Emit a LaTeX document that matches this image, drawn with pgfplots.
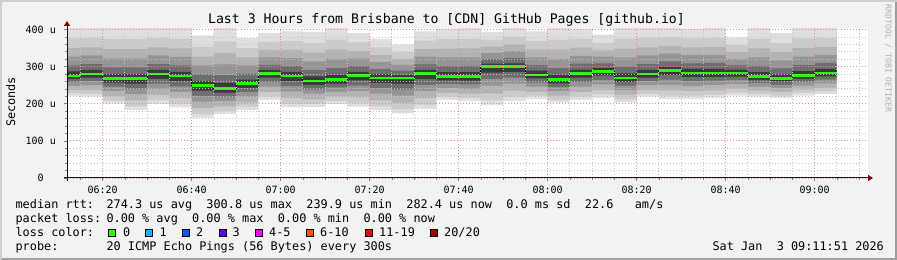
\documentclass[border=0pt]{standalone}
\usepackage{fontspec}
\usepackage{pgfplots}
\pgfplotsset{compat=1.18}
\usepackage{pgfplotstable}
\usetikzlibrary{arrows.meta}
\setmainfont{DejaVu Sans Mono}
\newfontfamily\mono{DejaVu Sans Mono}
\newcommand\ftitle{\mono\frenchspacing\fontsize{13.2bp}{15bp}\selectfont}
\newcommand\flegend{\mono\frenchspacing\fontsize{11.86bp}{14bp}\selectfont}
\newcommand\faxis{\mono\frenchspacing\fontsize{10bp}{12bp}\selectfont}
\newcommand\fwater{\mono\frenchspacing\fontsize{8.1bp}{10bp}\selectfont}
\definecolor{bg}{HTML}{F2F2F2}
\definecolor{shadeA}{HTML}{CFCFCF}
\definecolor{shadeB}{HTML}{9E9E9E}
\definecolor{mgrid}{HTML}{EB8C8C}
\definecolor{mingrid}{HTML}{C4C4C4}
\definecolor{arrowred}{HTML}{7F0000}
\definecolor{wm}{HTML}{B0B0B0}
\definecolor{sA}{HTML}{DFDFDF}
\definecolor{sB}{HTML}{CBCBCB}
\definecolor{sC}{HTML}{B3B3B3}
\definecolor{sD}{HTML}{959595}
\definecolor{sE}{HTML}{6E6E6E}
\definecolor{sF}{HTML}{3A3A3A}
\definecolor{med}{HTML}{26FF00}
\definecolor{lc1}{HTML}{00B8FF}
\definecolor{lc2}{HTML}{0059FF}
\definecolor{lc3}{HTML}{5E00FF}
\definecolor{lc4}{HTML}{FF00FF}
\definecolor{lc5}{HTML}{FF5500}
\definecolor{lc6}{HTML}{FF0000}
\definecolor{lc7}{HTML}{A10000}

% t = minutes after 06:00; b1..b6 lower smoke bounds, m median, u6..u1 upper smoke bounds (microseconds)
\pgfplotstableread{
t   b1  b2  b3  b4  b5  b6  m   u6  u5  u4  u3  u2  u1
12  221 228 237 248 258 266 275 287 303 327 350 376 404
15  219 226 237 250 261 270 280 291 307 330 352 377 404
20  200 208 220 234 246 257 268 280 298 322 347 374 404
25  183 193 209 226 241 254 268 280 298 322 347 374 404
30  199 209 223 240 254 267 280 291 307 330 352 377 404
35  190 200 215 232 247 261 274 286 303 326 349 375 404
40  162 172 188 206 221 235 249 261 279 303 327 354 384
45  172 180 193 207 219 230 241 256 277 306 336 368 404
50  183 192 204 219 231 243 254 265 281 303 325 350 377
55  210 219 231 246 258 270 281 291 305 325 345 367 391
60  190 200 216 233 248 261 275 286 301 323 345 369 395
65  191 200 212 227 239 251 262 274 291 314 338 364 393
70  199 207 219 232 244 254 265 278 296 321 346 373 404
75  192 202 217 234 249 263 276 286 301 322 342 365 390
80  183 193 209 227 242 256 270 280 293 312 331 352 375
85  174 185 203 222 239 254 269 277 289 305 321 339 359
90  186 197 215 234 251 266 281 291 306 327 347 370 395
95  210 218 229 242 253 263 273 285 301 325 348 374 402
100 207 215 227 240 252 262 273 285 302 325 349 375 404
105 197 209 228 249 267 284 300 308 320 337 354 373 393
110 207 218 235 254 270 285 300 309 323 342 360 381 404
115 213 221 232 246 257 268 278 289 304 325 346 369 395
120 203 210 222 234 245 255 265 278 296 321 346 373 404
125 210 219 231 246 258 270 281 292 308 329 351 375 402
130 216 225 237 252 264 276 287 296 309 327 344 364 386
135 204 212 224 237 249 259 270 282 300 324 348 375 404
140 219 226 237 250 261 270 280 291 307 330 352 377 404
145 213 222 236 251 265 277 289 299 314 335 356 379 404
150 213 221 234 248 261 272 283 294 309 331 352 376 402
155 216 224 236 250 262 272 283 294 310 331 353 377 404
160 222 229 240 253 264 273 283 292 304 321 339 358 379
165 219 226 235 246 256 264 273 285 302 325 349 375 404
170 216 222 232 242 251 260 268 279 295 317 339 363 390
175 222 229 238 249 259 267 276 288 304 327 350 376 404
180 226 233 243 255 265 274 283 294 310 331 353 377 404
185 226 233 243 255 265 274 283 294 310 331 353 377 404
}\smoke

\begin{document}
\begin{tikzpicture}
\fill[bg] (0,0) rectangle (897bp,260bp);
\draw[shadeA, line width=2bp] (1bp,0) -- (1bp,259bp) -- (897bp,259bp);
\draw[shadeB, line width=2bp] (2bp,1bp) -- (896bp,1bp) -- (896bp,258bp);
\fill[white] (67bp,82bp) rectangle (868bp,232bp);

\begin{axis}[
  at={(67bp,82bp)}, anchor=south west, scale only axis,
  width=801bp, height=150bp,
  xmin=12, xmax=192, ymin=0, ymax=404,
  axis on top,
  axis lines*=left,
  xtick pos=bottom, ytick pos=left,
  axis line style={line width=1bp, draw=black!92},
  x axis line style={-{Triangle[length=5bp,width=6bp,color=arrowred]}, shorten >=-5bp, shorten <=-3bp},
  y axis line style={-{Triangle[length=5bp,width=6bp,color=arrowred]}, shorten >=-7bp, shorten <=-3bp},
  xtick={20,40,60,80,100,120,140,160,180},
  xticklabels={06:20,06:40,07:00,07:20,07:40,08:00,08:20,08:40,09:00},
  minor xtick={15,25,30,35,45,50,55,65,70,75,85,90,95,105,110,115,125,130,135,145,150,155,165,170,175,185,190},
  ytick={0,100,200,300,400},
  yticklabels={{0\hphantom{~u}},{100~u},{200~u},{300~u},{400~u}},
  minor ytick={20,40,60,80,120,140,160,180,220,240,260,280,320,340,360,380},
  grid=both,
  major grid style={draw=mgrid, dash pattern=on 1bp off 2bp, line width=0.8bp},
  minor grid style={draw=mingrid, dash pattern=on 1bp off 2bp, line width=0.8bp},
  tick align=outside,
  major tick length=3bp, minor tick length=2bp,
  every tick/.style={draw=gray, line width=0.7bp},
  tick label style={font=\faxis, text=black},
  xticklabel style={anchor=base, inner sep=0pt, yshift=-13bp},
  yticklabel style={anchor=east, inner sep=0pt, xshift=-8bp},
  every axis plot/.append style={const plot, mark=none},
]
% smoke: nested bands, drawn from the highest bound down to the lowest
\addplot[fill=sA, draw=none] table[x=t,y=u1]{\smoke} \closedcycle;
\addplot[fill=sB, draw=none] table[x=t,y=u2]{\smoke} \closedcycle;
\addplot[fill=sC, draw=none] table[x=t,y=u3]{\smoke} \closedcycle;
\addplot[fill=sD, draw=none] table[x=t,y=u4]{\smoke} \closedcycle;
\addplot[fill=sE, draw=none] table[x=t,y=u5]{\smoke} \closedcycle;
\addplot[fill=sF, draw=none] table[x=t,y=u6]{\smoke} \closedcycle;
\addplot[fill=sE, draw=none] table[x=t,y=b6]{\smoke} \closedcycle;
\addplot[fill=sD, draw=none] table[x=t,y=b5]{\smoke} \closedcycle;
\addplot[fill=sC, draw=none] table[x=t,y=b4]{\smoke} \closedcycle;
\addplot[fill=sB, draw=none] table[x=t,y=b3]{\smoke} \closedcycle;
\addplot[fill=sA, draw=none] table[x=t,y=b2]{\smoke} \closedcycle;
\addplot[fill=white, draw=none] table[x=t,y=b1]{\smoke} \closedcycle;
% median
\addplot[draw=black, line width=0.8bp] table[x=t,y=m]{\smoke};
\addplot[jump mark left, draw=med, line width=2.4bp] table[x=t,y=m]{\smoke};
\end{axis}

\node[anchor=base, font=\ftitle, inner sep=0pt] at (446.5bp,236bp) {Last 3 Hours from Brisbane to [CDN] GitHub Pages [github.io]};
\node[rotate=90, font=\flegend, inner sep=0pt] at (10.8bp,158bp) {Seconds};
\node[rotate=-90, font=\fwater, text=wm, inner sep=0pt] at (888.3bp,201.5bp) {RRDTOOL / TOBI OETIKER};

\begin{scope}[every node/.style={anchor=base west, inner sep=0pt, font=\flegend}]
\node at (15.4bp,51.7bp) {median rtt:};
\node at (106.3bp,51.7bp) {274.3 us avg~~300.8 us max~~239.9 us min~~282.4 us now~~0.0 ms sd~~22.6~~~am/s};
\node at (15.4bp,37.5bp) {packet loss:};
\node at (106.3bp,37.5bp) {0.00 \% avg~~0.00 \% max~~0.00 \% min~~0.00 \% now};
\node at (15.4bp,23.3bp) {loss color:};
\node at (15.4bp,9.1bp) {probe:};
\node at (106.3bp,9.1bp) {20 ICMP Echo Pings (56 Bytes) every 300s};
\node at (712.3bp,9.1bp) {Sat Jan~~3 09:11:51 2026};
\node at (123.0bp,23.3bp) {0};
\node at (159.5bp,23.3bp) {1};
\node at (196.0bp,23.3bp) {2};
\node at (232.5bp,23.3bp) {3};
\node at (269.0bp,23.3bp) {4-5};
\node at (320.0bp,23.3bp) {6-10};
\node at (379.0bp,23.3bp) {11-19};
\node at (444.0bp,23.3bp) {20/20};
\end{scope}
\begin{scope}[line width=0.8bp, draw=black]
\filldraw[fill=med]  (108.5bp,23.8bp) rectangle ++(7bp,7bp);
\filldraw[fill=lc1]  (145.5bp,23.8bp) rectangle ++(7bp,7bp);
\filldraw[fill=lc2]  (182.5bp,23.8bp) rectangle ++(7bp,7bp);
\filldraw[fill=lc3]  (219bp,23.8bp) rectangle ++(7bp,7bp);
\filldraw[fill=lc4]  (255.5bp,23.8bp) rectangle ++(7bp,7bp);
\filldraw[fill=lc5]  (306bp,23.8bp) rectangle ++(7bp,7bp);
\filldraw[fill=lc6]  (365bp,23.8bp) rectangle ++(7bp,7bp);
\filldraw[fill=lc7]  (430bp,23.8bp) rectangle ++(7bp,7bp);
\end{scope}
\pgfresetboundingbox
\useasboundingbox (0,0) rectangle (897bp,260bp);
\end{tikzpicture}
\end{document}
